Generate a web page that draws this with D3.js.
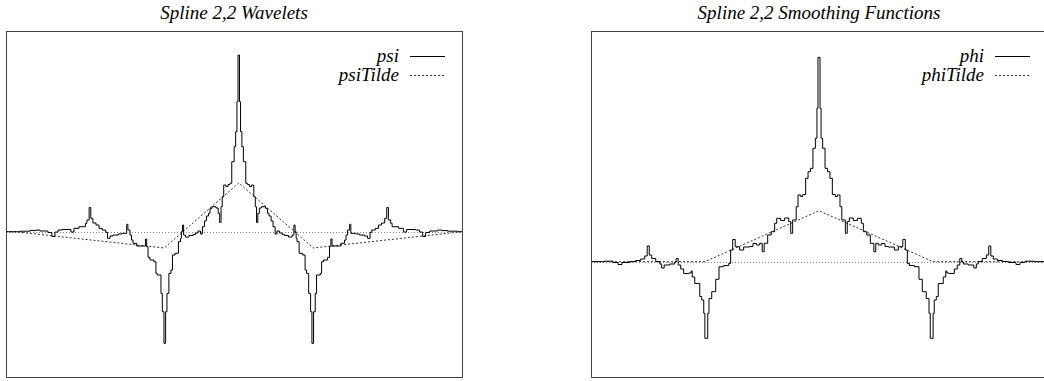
<!DOCTYPE html>
<html>
<head>
<meta charset="utf-8">
<script src="https://cdn.jsdelivr.net/npm/d3@7"></script>
<style>
  body { margin: 0; background: #fff; }
  svg { display: block; }
  text { font-family: "Liberation Serif", "Times New Roman", serif; font-style: italic; font-size: 19px; fill: #000; }
</style>
</head>
<body>
<script>
// Spline 2,2 wavelet (psi) - step function: step start -> value
const psiX = [-1.562, -1.468, -1.401, -1.361, -1.334, -1.281, -1.254, -1.234, -1.213, -1.187, -1.126, -1.106, -1.072, -1.029, -1.019, -1.004, -0.993, -0.979, -0.958, -0.938, -0.916, -0.893, -0.881, -0.864, -0.844, -0.811, -0.784, -0.752, -0.744, -0.730, -0.720, -0.710, -0.685, -0.626, -0.618, -0.609, -0.596, -0.569, -0.556, -0.547, -0.522, -0.513, -0.502, -0.491, -0.482, -0.469, -0.455, -0.445, -0.428, -0.405, -0.391, -0.385, -0.378, -0.370, -0.358, -0.334, -0.307, -0.291, -0.274, -0.257, -0.244, -0.230, -0.217, -0.203, -0.193, -0.180, -0.153, -0.138, -0.128, -0.119, -0.111, -0.101, -0.086, -0.072, -0.059, -0.047, -0.031, -0.021, -0.012, -0.005,
  0.005, 0.012, 0.021, 0.031, 0.047, 0.059, 0.072, 0.086, 0.101, 0.111, 0.119, 0.128, 0.138, 0.153, 0.180, 0.193, 0.203, 0.217, 0.230, 0.244, 0.257, 0.274, 0.291, 0.307, 0.334, 0.358, 0.370, 0.378, 0.385, 0.391, 0.405, 0.428, 0.445, 0.455, 0.469, 0.482, 0.491, 0.502, 0.513, 0.522, 0.547, 0.556, 0.569, 0.596, 0.609, 0.618, 0.626, 0.685, 0.710, 0.720, 0.730, 0.744, 0.752, 0.784, 0.811, 0.844, 0.864, 0.881, 0.893, 0.916, 0.938, 0.958, 0.979, 0.993, 1.004, 1.019, 1.029, 1.072, 1.106, 1.126, 1.187, 1.213, 1.234, 1.254, 1.281, 1.334, 1.361, 1.401, 1.468, 1.498];
const psiV = [0, 0.008, 0.018, 0.026, 0.011, -0.012, -0.074, -0.005, 0.026, 0.034, -0.005, 0.052, 0.077, 0.129, 0.180, 0.372, 0.206, 0.134, 0.103, 0.052, 0.026, -0.009, -0.102, -0.066, -0.051, -0.035, -0.025, 0.114, 0.026, -0.051, -0.128, -0.178, -0.220, -0.112, -0.231, -0.394, -0.435, -0.462, -0.640, -0.666, -0.948, -1.231, -1.717, -1.231, -0.948, -0.640, -0.589, -0.358, -0.332, -0.154, -0.102, 0, 0.103, -0.051, -0.082, -0.058, -0.043, -0.020, 0.011, -0.035, 0.077, 0.165, 0.242, 0.283, 0.360, 0.385, 0.365, 0.283, 0.142, 0.385, 0.538, 0.718, 0.695, 0.726, 0.745, 1.077, 1.308, 1.538, 2.0, 2.718,
  2.0, 1.538, 1.308, 1.077, 0.745, 0.726, 0.695, 0.718, 0.538, 0.385, 0.142, 0.283, 0.365, 0.385, 0.360, 0.283, 0.242, 0.165, 0.077, -0.035, 0.011, -0.020, -0.043, -0.058, -0.082, -0.051, 0.103, 0, -0.102, -0.154, -0.332, -0.358, -0.589, -0.640, -0.948, -1.231, -1.717, -1.231, -0.948, -0.666, -0.640, -0.462, -0.435, -0.394, -0.231, -0.112, -0.220, -0.178, -0.128, -0.051, 0.026, 0.114, -0.025, -0.035, -0.051, -0.066, -0.102, -0.009, 0.026, 0.052, 0.103, 0.134, 0.206, 0.372, 0.180, 0.129, 0.077, 0.052, -0.005, 0.034, 0.026, -0.005, -0.074, -0.012, 0.011, 0.026, 0.018, 0.008, 0, 0];

// dual wavelet psiTilde (piecewise linear)
const psiTildeX = [-1.562, -1.5, -1.0, -0.5, 0, 0.5, 1.0, 1.498];
const psiTildeV = [0, 0, -0.125, -0.25, 0.75, -0.25, -0.125, 0];

// Spline 2,2 smoothing function (phi)
const phiX = [-2.000, -1.886, -1.807, -1.763, -1.728, -1.661, -1.608, -1.564, -1.529, -1.507, -1.489, -1.468, -1.432, -1.397, -1.380, -1.358, -1.309, -1.266, -1.253, -1.235, -1.213, -1.187, -1.143, -1.121, -1.112, -1.090, -1.046, -1.029, -1.011, -1.001, -0.976, -0.965, -0.941, -0.906, -0.877, -0.836, -0.792, -0.775, -0.757, -0.735, -0.696, -0.661, -0.608, -0.579, -0.549, -0.520, -0.498, -0.481, -0.450, -0.419, -0.389, -0.371, -0.336, -0.301, -0.266, -0.248, -0.231, -0.200, -0.184, -0.161, -0.143, -0.117, -0.096, -0.075, -0.053, -0.032, -0.018, -0.009,
  0.009, 0.018, 0.032, 0.053, 0.075, 0.096, 0.117, 0.143, 0.161, 0.184, 0.200, 0.231, 0.248, 0.266, 0.301, 0.336, 0.371, 0.389, 0.419, 0.450, 0.481, 0.498, 0.520, 0.549, 0.579, 0.608, 0.661, 0.696, 0.735, 0.757, 0.775, 0.792, 0.836, 0.877, 0.906, 0.941, 0.965, 0.976, 1.001, 1.011, 1.029, 1.046, 1.090, 1.112, 1.121, 1.143, 1.187, 1.213, 1.235, 1.253, 1.266, 1.309, 1.358, 1.380, 1.397, 1.432, 1.468, 1.489, 1.507, 1.529, 1.564, 1.608, 1.661, 1.728, 1.763, 1.807, 1.886, 2.0];
const phiV = [0, 0.01, -0.016, -0.055, -0.016, 0.004, 0.024, 0.053, 0.112, 0.308, 0.131, 0.063, 0.004, -0.045, -0.124, -0.065, -0.045, -0.006, 0.063, -0.065, -0.143, -0.231, -0.222, -0.182, -0.300, -0.427, -0.682, -0.751, -1.012, -1.502, -1.012, -0.722, -0.588, -0.345, -0.098, -0.075, -0.035, 0.229, 0.435, 0.294, 0.229, 0.288, 0.298, 0.357, 0.327, 0.361, 0.196, 0.361, 0.524, 0.588, 0.753, 0.851, 0.808, 0.857, 0.788, 0.557, 0.818, 1.078, 1.308, 1.278, 1.318, 1.635, 1.765, 1.831, 2.224, 2.420, 3.008, 4.008,
  3.008, 2.420, 2.224, 1.831, 1.765, 1.635, 1.318, 1.278, 1.308, 1.078, 0.818, 0.557, 0.788, 0.857, 0.808, 0.851, 0.753, 0.588, 0.524, 0.361, 0.196, 0.361, 0.327, 0.357, 0.298, 0.288, 0.229, 0.294, 0.435, 0.229, -0.035, -0.075, -0.098, -0.345, -0.588, -0.722, -1.012, -1.502, -1.012, -0.751, -0.682, -0.427, -0.300, -0.182, -0.222, -0.231, -0.143, -0.065, 0.063, -0.006, -0.045, -0.065, -0.124, -0.045, 0.004, 0.063, 0.131, 0.308, 0.112, 0.053, 0.024, 0.004, -0.016, -0.055, -0.016, 0.01, 0, 0];

// dual smoothing function phiTilde (hat)
const phiTildeX = [-2.0, -1.0, 0, 1.0, 2.0];
const phiTildeV = [0, 0, 1, 0, 0];

const titles = ['Spline 2,2 Wavelets', 'Spline 2,2 Smoothing Functions'];
const solidNames = ['psi', 'phi'];
const dottedNames = ['psiTilde', 'phiTilde'];

const svg = d3.select('body').append('svg')
  .attr('width', 1044)
  .attr('height', 381);

const panels = [
  { left: 6, right: 462, top: 31, bottom: 377, xDomain: [-1.562, 1.498], yDomain: [-2.235, 3.088],
    solidX: psiX, solidV: psiV, dotX: psiTildeX, dotV: psiTildeV },
  { left: 591, right: 1047, top: 31, bottom: 377, xDomain: [-2.0, 2.0], yDomain: [-2.261, 4.524],
    solidX: phiX, solidV: phiV, dotX: phiTildeX, dotV: phiTildeV }
];

panels.forEach(function (p, i) {
  const x = d3.scaleLinear().domain(p.xDomain).range([p.left, p.right]);
  const y = d3.scaleLinear().domain(p.yDomain).range([p.bottom, p.top]);

  const clipId = 'clip-' + i;
  svg.append('clipPath').attr('id', clipId)
    .append('rect')
    .attr('x', p.left).attr('y', p.top)
    .attr('width', p.right - p.left).attr('height', p.bottom - p.top);

  const g = svg.append('g');

  // zero axis
  g.append('line')
    .attr('x1', x(p.xDomain[0])).attr('x2', x(p.xDomain[1]))
    .attr('y1', Math.round(y(0)) + 0.5).attr('y2', Math.round(y(0)) + 0.5)
    .attr('stroke', '#888')
    .attr('stroke-dasharray', '1,2');

  const plot = g.append('g').attr('clip-path', 'url(#' + clipId + ')');

  const dotted = d3.line()
    .x(function (d) { return x(d[0]); })
    .y(function (d) { return y(d[1]); });

  plot.append('path')
    .datum(d3.zip(p.dotX, p.dotV))
    .attr('d', dotted)
    .attr('fill', 'none')
    .attr('stroke', '#333')
    .attr('stroke-width', 1)
    .attr('stroke-dasharray', '2,2');

  const stairs = d3.line()
    .x(function (d) { return x(d[0]); })
    .y(function (d) { return y(d[1]); })
    .curve(d3.curveStepAfter);

  plot.append('path')
    .datum(d3.zip(p.solidX, p.solidV))
    .attr('d', stairs)
    .attr('fill', 'none')
    .attr('stroke', '#000')
    .attr('stroke-width', 1);

  // frame
  g.append('rect')
    .attr('x', p.left + 0.5).attr('y', p.top + 0.5)
    .attr('width', p.right - p.left).attr('height', p.bottom - p.top)
    .attr('fill', 'none')
    .attr('stroke', '#444');

  // title
  svg.append('text')
    .attr('x', (p.left + p.right) / 2)
    .attr('y', 19)
    .attr('text-anchor', 'middle')
    .text(titles[i]);

  // legend
  const lx = p.right - 63;
  svg.append('text').attr('x', lx).attr('y', 62).attr('text-anchor', 'end').text(solidNames[i]);
  svg.append('text').attr('x', lx).attr('y', 81).attr('text-anchor', 'end').text(dottedNames[i]);
  svg.append('line')
    .attr('x1', p.right - 52).attr('x2', p.right - 17)
    .attr('y1', 56.5).attr('y2', 56.5)
    .attr('stroke', '#000');
  svg.append('line')
    .attr('x1', p.right - 52).attr('x2', p.right - 17)
    .attr('y1', 75.5).attr('y2', 75.5)
    .attr('stroke', '#333')
    .attr('stroke-dasharray', '2,2');
});
</script>
</body>
</html>
